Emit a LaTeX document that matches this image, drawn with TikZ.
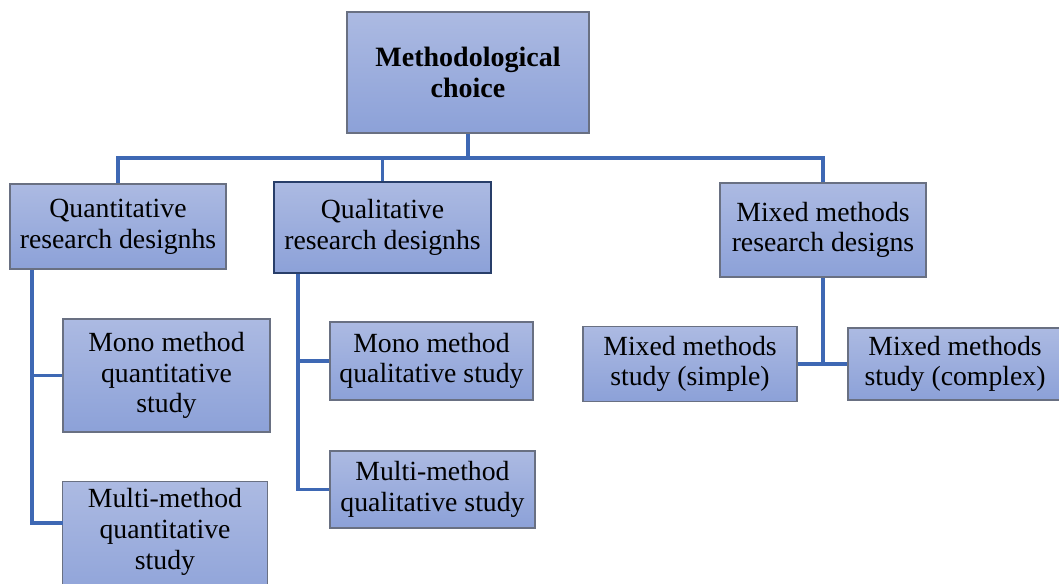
\documentclass[tikz,border=0pt]{standalone}
\usepackage{fontspec}
\setmainfont{Liberation Serif}
\usetikzlibrary{backgrounds}
\definecolor{boxtop}{RGB}{172,186,226}
\definecolor{boxbot}{RGB}{140,161,216}
\definecolor{boxline}{RGB}{105,112,130}
\definecolor{darkline}{RGB}{40,62,105}
\definecolor{linkblue}{RGB}{62,104,180}
\tikzset{
  boxfill/.style={draw=boxline, line width=0.8pt, top color=boxtop, bottom color=boxbot},
  box/.style={boxfill, align=center, inner sep=0pt,
    font=\fontsize{20.8}{23}\selectfont},
  boxtext/.style={align=center, inner sep=0pt,
    font=\fontsize{20.8}{23}\selectfont},
  link/.style={draw=linkblue, line width=2.5pt}
}
\begin{document}
\begin{tikzpicture}[x=0.75pt,y=-0.75pt]
\useasboundingbox (0,0) rectangle (1059,584);

% root
\node[box, minimum width=181.5pt, minimum height=90.75pt,
  font=\fontsize{21}{23}\selectfont\bfseries] (top) at (468,72.5)
  {Methodological\\choice};

% second level
\node[box, minimum width=162pt, minimum height=63.75pt] (quant) at (118,226.5)
  {Quantitative\\research designhs};
\node[box, draw=darkline, line width=1.2pt, minimum width=162.75pt, minimum height=68.25pt]
  (qual) at (382.5,227.5) {Qualitative\\research designhs};
\node[box, minimum width=154.5pt, minimum height=70.5pt] (mixed) at (823,230)
  {Mixed methods\\research designs};

% quantitative branch
\node[box, minimum width=155.25pt, minimum height=84.75pt] (monoQuant) at (166.5,375.5)
  {Mono method\\quantitative\\study};
\node[boxtext, minimum width=153pt, minimum height=75pt] (multiQuant) at (165,532)
  {Multi-method\\quantitative\\study};

% qualitative branch
\node[box, minimum width=152.25pt, minimum height=58.5pt] (monoQual) at (431.5,361)
  {Mono method\\qualitative study};
\node[box, minimum width=153.75pt, minimum height=57.75pt] (multiQual) at (432.5,489.5)
  {Multi-method\\qualitative study};

% mixed branch
\node[box, minimum width=160.5pt, minimum height=56.25pt] (simple) at (690,364)
  {Mixed methods\\study (simple)};
\node[box, minimum width=160.5pt, minimum height=54pt] (complex) at (955,364)
  {Mixed methods\\study (complex)};

\coordinate (bus) at (0,158);
\coordinate (qv) at (32,0);
\coordinate (qlv) at (298,0);

\begin{pgfonlayer}{background}
  % box running past the lower edge
  \path[boxfill] (multiQuant.north west) rectangle ([yshift=-20pt]multiQuant.south east);
  % connectors
  \draw[link] (top.south) -- (top.south |- bus);
  \draw[link] (quant.north) |- (mixed.north |- bus) -- (mixed.north);
  \draw[link] (qual.north) -- (qual.north |- bus);
  \draw[link] (quant.south -| qv) |- (monoQuant.west);
  \draw[link] (quant.south -| qv) |- ([yshift=6.75pt]multiQuant.west);
  \draw[link] (qual.south -| qlv) |- (monoQual.west);
  \draw[link] (qual.south -| qlv) |- (multiQual.west);
  \draw[link] (mixed.south) -- (mixed.south |- simple.east);
  \draw[link] (simple.east) -- (complex.west);
\end{pgfonlayer}
\end{tikzpicture}
\end{document}
